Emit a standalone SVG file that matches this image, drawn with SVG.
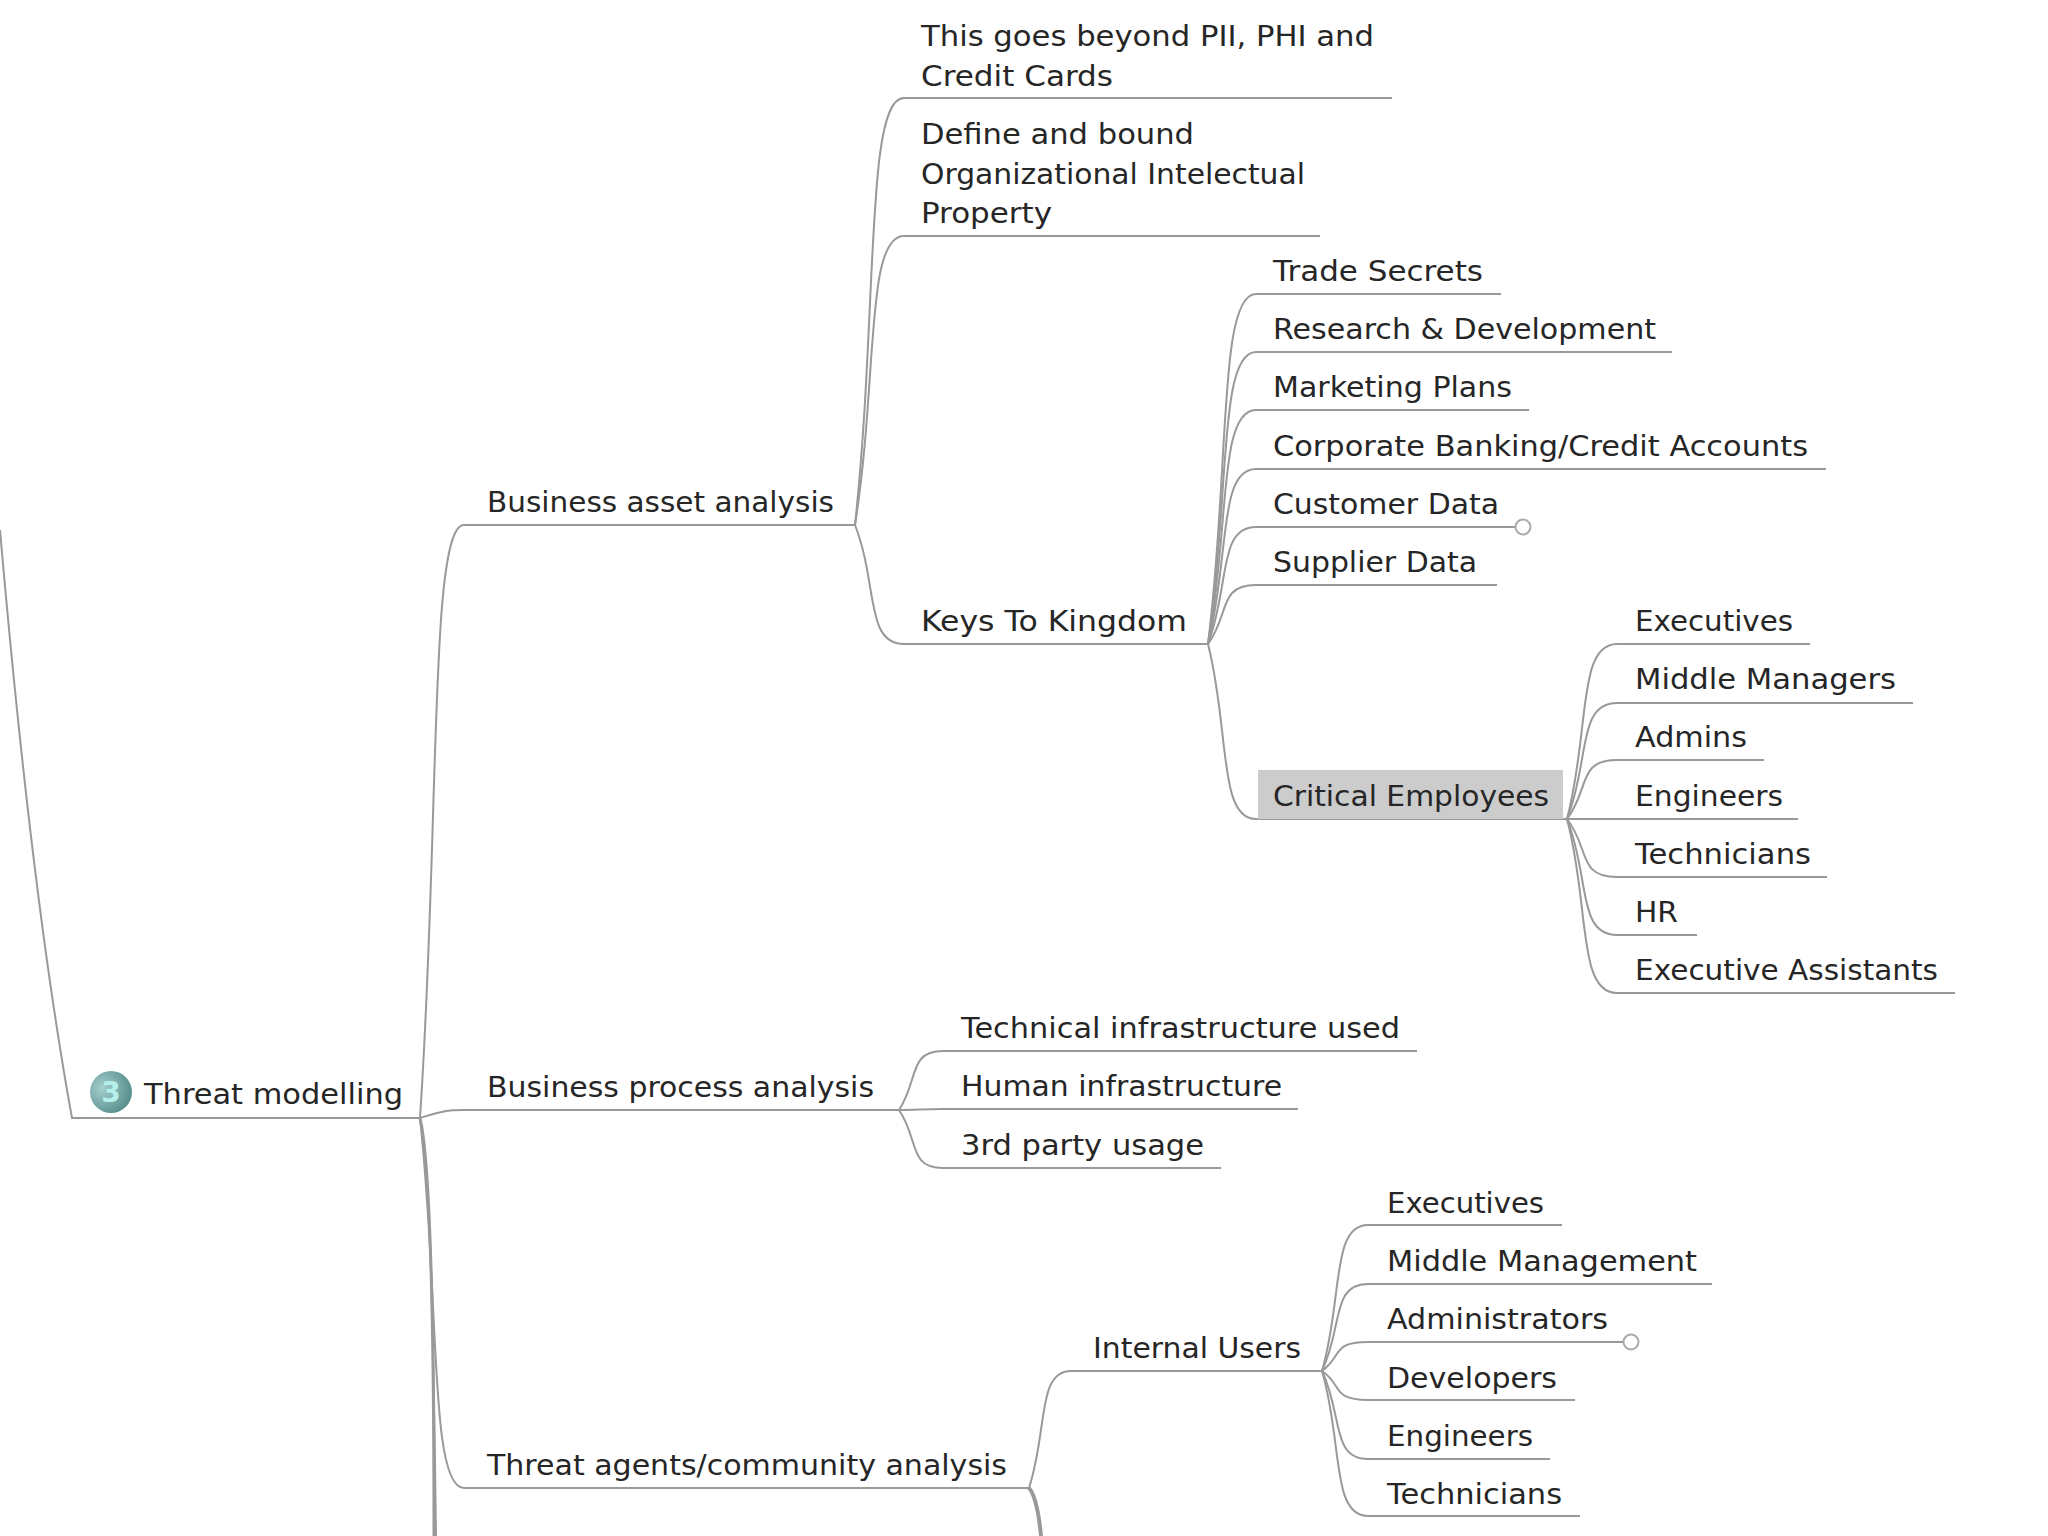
<svg xmlns="http://www.w3.org/2000/svg" width="2048" height="1536" viewBox="0 0 2048 1536">
<defs>
<style>
text{font-family:"DejaVu Sans","Liberation Sans",sans-serif;font-size:28px;fill:#262626}
.c{fill:none;stroke:#999;stroke-width:2}
.o{fill:#fff;stroke:#aaa;stroke-width:2}
</style>
<radialGradient id="b" cx="0.3" cy="0.4" r="0.8"><stop offset="0" stop-color="#a5cfcd"/><stop offset="1" stop-color="#4d8586"/></radialGradient>
</defs>
<rect width="2048" height="1536" fill="#fff"/>
<g id="connectors">
<path class="c" d="M0 530C20 760 45 970 72 1118H420"/>
<path class="c" d="M420 1118C440 821 429 525 464 525H855"/>
<path class="c" d="M420 1118C440 1112 445 1110 464 1110H899"/>
<path class="c" d="M420 1118C440 1303 429 1488 464 1488H1029"/>
<path class="c" d="M420 1118C433 1200 434 1400 436 1536"/>
<path class="c" style="stroke-width:3" d="M420 1118C430 1160 434 1300 434 1536"/>
<path class="c" d="M855 525C878 311 865 98 904 98H1392"/>
<path class="c" d="M855 525C878 380 865 236 904 236H1320"/>
<path class="c" d="M855 525C878 584 865 644 904 644H1208"/>
<path class="c" d="M1208 644C1230 469 1218 294 1256 294H1501"/>
<path class="c" d="M1208 644C1230 498 1218 352 1256 352H1672"/>
<path class="c" d="M1208 644C1230 527 1218 410 1256 410H1529"/>
<path class="c" d="M1208 644C1230 556 1218 469 1256 469H1826"/>
<path class="c" d="M1208 644C1230 585 1218 527 1256 527H1516"/>
<path class="c" d="M1208 644C1230 614 1218 585 1256 585H1497"/>
<path class="c" d="M1208 644C1230 731 1218 819 1256 819H1567"/>
<path class="c" d="M1567 819C1590 731 1577 644 1617 644H1810"/>
<path class="c" d="M1567 819C1590 761 1577 703 1617 703H1913"/>
<path class="c" d="M1567 819C1590 789 1577 760 1617 760H1764"/>
<path class="c" d="M1567 819H1798"/>
<path class="c" d="M1567 819C1590 848 1577 877 1617 877H1827"/>
<path class="c" d="M1567 819C1590 877 1577 935 1617 935H1697"/>
<path class="c" d="M1567 819C1590 906 1577 993 1617 993H1955"/>
<path class="c" d="M899 1110C919 1080 908 1051 943 1051H1417"/>
<path class="c" d="M899 1110C915 1110 925 1109 943 1109H1298"/>
<path class="c" d="M899 1110C919 1139 908 1168 943 1168H1221"/>
<path class="c" d="M1029 1488C1048 1429 1037 1371 1071 1371H1322"/>
<path class="c" style="stroke-width:4" d="M1029 1488C1036 1496 1039 1515 1041 1536"/>
<path class="c" d="M1322 1371C1343 1298 1331 1225 1368 1225H1562"/>
<path class="c" d="M1322 1371C1343 1327 1331 1284 1368 1284H1712"/>
<path class="c" d="M1322 1371C1343 1356 1331 1342 1368 1342H1623"/>
<path class="c" d="M1322 1371C1343 1385 1331 1400 1368 1400H1575"/>
<path class="c" d="M1322 1371C1343 1415 1331 1459 1368 1459H1550"/>
<path class="c" d="M1322 1371C1343 1443 1331 1516 1368 1516H1580"/>
</g>
<g id="threat-modelling"><circle cx="111" cy="1092" r="21" fill="url(#b)"/><text x="111" y="1102" text-anchor="middle" style="font-weight:bold;fill:#b5f0ea">3</text><text x="144" y="1104" textLength="259" lengthAdjust="spacingAndGlyphs">Threat modelling</text></g>
<g id="business-asset"><text x="487" y="512" textLength="347" lengthAdjust="spacingAndGlyphs">Business asset analysis</text></g>
<g id="business-process"><text x="487" y="1097" textLength="387" lengthAdjust="spacingAndGlyphs">Business process analysis</text></g>
<g id="threat-agents"><text x="487" y="1475" textLength="520" lengthAdjust="spacingAndGlyphs">Threat agents/community analysis</text></g>
<g id="beyond"><text x="921" y="46" textLength="453" lengthAdjust="spacingAndGlyphs">This goes beyond PII, PHI and</text><text x="921" y="86" textLength="192" lengthAdjust="spacingAndGlyphs">Credit Cards</text></g>
<g id="define"><text x="921" y="144" textLength="273" lengthAdjust="spacingAndGlyphs">Define and bound</text><text x="921" y="184" textLength="384" lengthAdjust="spacingAndGlyphs">Organizational Intelectual</text><text x="921" y="223" textLength="131" lengthAdjust="spacingAndGlyphs">Property</text></g>
<g id="keys"><text x="921" y="631" textLength="266" lengthAdjust="spacingAndGlyphs">Keys To Kingdom</text></g>
<g id="trade"><text x="1273" y="281" textLength="210" lengthAdjust="spacingAndGlyphs">Trade Secrets</text></g>
<g id="research"><text x="1273" y="339" textLength="383" lengthAdjust="spacingAndGlyphs">Research &amp; Development</text></g>
<g id="marketing"><text x="1273" y="397" textLength="239" lengthAdjust="spacingAndGlyphs">Marketing Plans</text></g>
<g id="banking"><text x="1273" y="456" textLength="535" lengthAdjust="spacingAndGlyphs">Corporate Banking/Credit Accounts</text></g>
<g id="customer"><text x="1273" y="514" textLength="226" lengthAdjust="spacingAndGlyphs">Customer Data</text><circle class="o" cx="1523" cy="527" r="7.5"/></g>
<g id="supplier"><text x="1273" y="572" textLength="204" lengthAdjust="spacingAndGlyphs">Supplier Data</text></g>
<g id="critical"><rect x="1258" y="770" width="305" height="49" fill="#cccccc"/><text x="1273" y="806" textLength="276" lengthAdjust="spacingAndGlyphs">Critical Employees</text></g>
<g id="ce-exec"><text x="1635" y="631" textLength="158" lengthAdjust="spacingAndGlyphs">Executives</text></g>
<g id="ce-mid"><text x="1635" y="689" textLength="261" lengthAdjust="spacingAndGlyphs">Middle Managers</text></g>
<g id="ce-adm"><text x="1635" y="747" textLength="112" lengthAdjust="spacingAndGlyphs">Admins</text></g>
<g id="ce-eng"><text x="1635" y="806" textLength="148" lengthAdjust="spacingAndGlyphs">Engineers</text></g>
<g id="ce-tech"><text x="1635" y="864" textLength="176" lengthAdjust="spacingAndGlyphs">Technicians</text></g>
<g id="ce-hr"><text x="1635" y="922" textLength="43" lengthAdjust="spacingAndGlyphs">HR</text></g>
<g id="ce-ea"><text x="1635" y="980" textLength="303" lengthAdjust="spacingAndGlyphs">Executive Assistants</text></g>
<g id="tech-infra"><text x="961" y="1038" textLength="439" lengthAdjust="spacingAndGlyphs">Technical infrastructure used</text></g>
<g id="human-infra"><text x="961" y="1096" textLength="321" lengthAdjust="spacingAndGlyphs">Human infrastructure</text></g>
<g id="third-party"><text x="961" y="1155" textLength="243" lengthAdjust="spacingAndGlyphs">3rd party usage</text></g>
<g id="internal"><text x="1093" y="1358" textLength="208" lengthAdjust="spacingAndGlyphs">Internal Users</text></g>
<g id="iu-exec"><text x="1387" y="1213" textLength="157" lengthAdjust="spacingAndGlyphs">Executives</text></g>
<g id="iu-mid"><text x="1387" y="1271" textLength="310" lengthAdjust="spacingAndGlyphs">Middle Management</text></g>
<g id="iu-adm"><text x="1387" y="1329" textLength="221" lengthAdjust="spacingAndGlyphs">Administrators</text><circle class="o" cx="1631" cy="1342" r="7.5"/></g>
<g id="iu-dev"><text x="1387" y="1388" textLength="170" lengthAdjust="spacingAndGlyphs">Developers</text></g>
<g id="iu-eng"><text x="1387" y="1446" textLength="146" lengthAdjust="spacingAndGlyphs">Engineers</text></g>
<g id="iu-tech"><text x="1387" y="1504" textLength="175" lengthAdjust="spacingAndGlyphs">Technicians</text></g>
</svg>
